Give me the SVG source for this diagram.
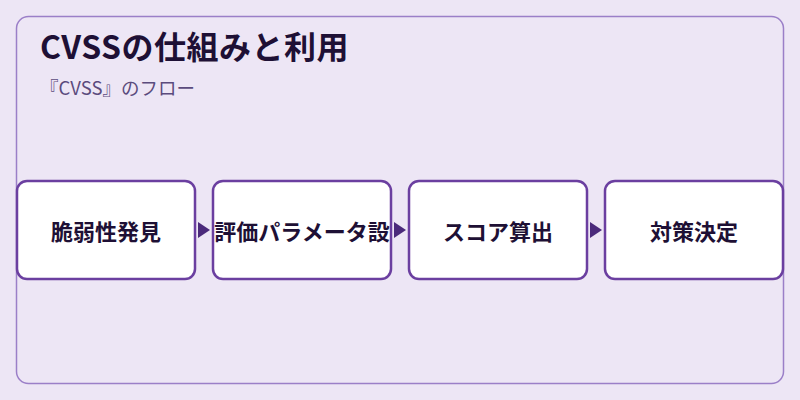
<svg xmlns="http://www.w3.org/2000/svg" width="800" height="400" viewBox="0 0 800 400">
<style>
.node rect{fill:#ffffff;stroke:#6b3fa0;stroke-width:2.5}
.node text{font-family:"Noto Sans CJK JP","Noto Sans",sans-serif;font-size:22px;font-weight:bold;fill:#1e1035;text-anchor:middle;dominant-baseline:central}
.edge{stroke:#4b2a7b;stroke-width:2;fill:none}
</style>
<defs>
<marker id="ah" viewBox="0 0 12 16" refX="12" refY="8" markerWidth="12" markerHeight="16" markerUnits="userSpaceOnUse" orient="auto">
<path d="M0,0 L12,8 L0,16 Z" fill="#4b2a7b"/>
</marker>
</defs>
<rect x="0" y="0" width="800" height="400" fill="#ede6f5"/>
<rect x="16.5" y="16.5" width="767" height="367" rx="12" fill="none" stroke="#9b7fc8" stroke-width="1.5"/>
<text x="40" y="59" font-family="Noto Sans CJK JP, Noto Sans, sans-serif" font-size="32" font-weight="bold" letter-spacing="0.5" fill="#1e1035">CVSSの仕組みと利用</text>
<text x="40" y="95" font-family="Noto Sans CJK JP, Noto Sans, sans-serif" font-size="18.5" fill="#5b4b7d">『CVSS』のフロー</text>
<g id="connectors">
<line class="edge" x1="196" y1="230" x2="210" y2="230" marker-end="url(#ah)" stroke-opacity="0"/>
<line class="edge" x1="392" y1="230" x2="406" y2="230" marker-end="url(#ah)" stroke-opacity="0"/>
<line class="edge" x1="588" y1="230" x2="602" y2="230" marker-end="url(#ah)" stroke-opacity="0"/>
</g>
<g id="n1" class="node"><rect x="17" y="181" width="178" height="98" rx="10"/><text x="106" y="230">脆弱性発見</text></g>
<g id="n2" class="node"><rect x="213" y="181" width="178" height="98" rx="10"/><text x="302" y="230">評価パラメータ設</text></g>
<g id="n3" class="node"><rect x="409" y="181" width="178" height="98" rx="10"/><text x="498" y="230">スコア算出</text></g>
<g id="n4" class="node"><rect x="605" y="181" width="178" height="98" rx="10"/><text x="694" y="230">対策決定</text></g>
</svg>
